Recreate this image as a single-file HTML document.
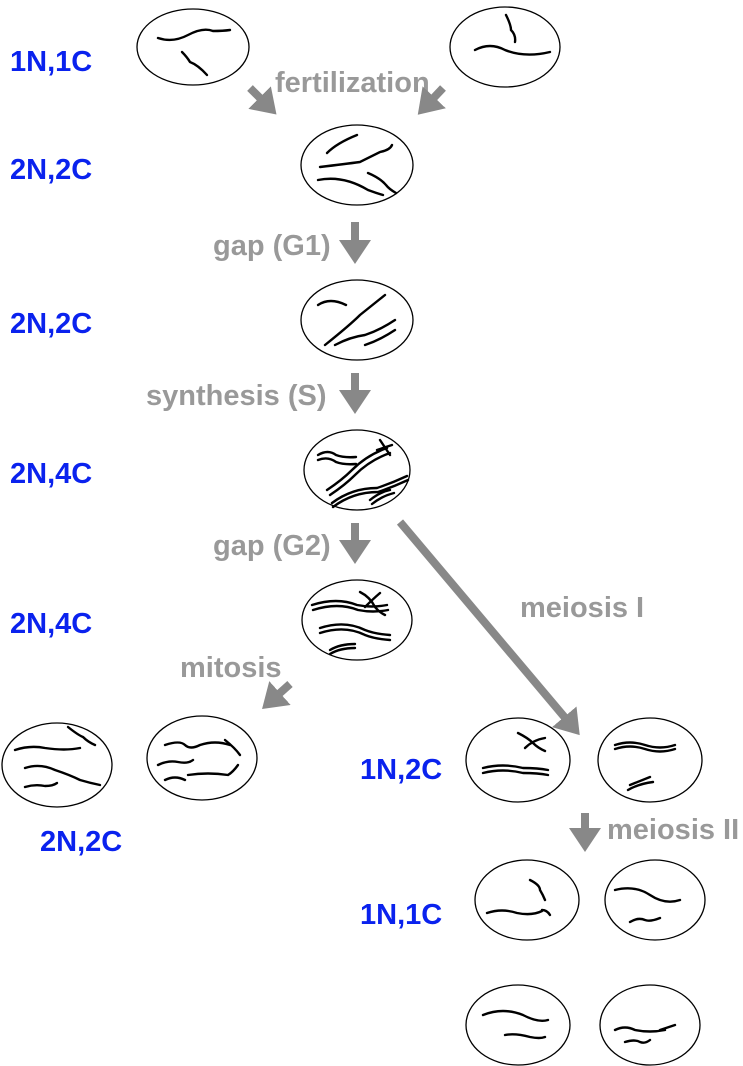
<!DOCTYPE html>
<html><head><style>
body{margin:0;background:#fff;}
svg{display:block;}
.b{fill:#0a22ee;font:bold 29px "Liberation Sans",sans-serif;}
.g{fill:#999;font:bold 29px "Liberation Sans",sans-serif;}
ellipse{fill:#fff;stroke:#000;stroke-width:1.3;}
.c path{fill:none;stroke:#000;stroke-width:2.4;stroke-linecap:round;}
</style></head><body>
<svg width="743" height="1066" viewBox="0 0 743 1066">
<defs>
<marker id="h" markerWidth="4" markerHeight="4" refX="1.5" refY="2" orient="auto" markerUnits="strokeWidth"><path d="M0,0 L3,2 L0,4 Z" fill="#888"/></marker>
</defs>
<text class="b" x="10" y="71">1N,1C</text>
<text class="b" x="10" y="179">2N,2C</text>
<text class="b" x="10" y="333">2N,2C</text>
<text class="b" x="10" y="483">2N,4C</text>
<text class="b" x="10" y="633">2N,4C</text>
<text class="b" x="40" y="851">2N,2C</text>
<text class="b" x="360" y="779">1N,2C</text>
<text class="b" x="360" y="924">1N,1C</text>
<text class="g" x="275" y="92">fertilization</text>
<text class="g" x="213" y="255">gap (G1)</text>
<text class="g" x="146" y="405">synthesis (S)</text>
<text class="g" x="213" y="555">gap (G2)</text>
<text class="g" x="180" y="677">mitosis</text>
<text class="g" x="520" y="617">meiosis I</text>
<text class="g" x="607" y="839">meiosis II</text>
<g stroke="#888" stroke-width="8" marker-end="url(#h)">
<line x1="250" y1="88" x2="268" y2="106"/>
<line x1="443" y1="88" x2="426" y2="106"/>
<line x1="355" y1="222" x2="355" y2="252"/>
<line x1="355" y1="373" x2="355" y2="402"/>
<line x1="355" y1="523" x2="355" y2="552"/>
<line x1="290" y1="684" x2="271" y2="701"/>
<line x1="400" y1="522" x2="572" y2="726"/>
<line x1="585" y1="813" x2="585" y2="840"/>
</g>
<ellipse cx="193" cy="47" rx="56" ry="38"/>
<ellipse cx="505" cy="47" rx="55" ry="40"/>
<ellipse cx="357" cy="165" rx="56" ry="40"/>
<ellipse cx="357" cy="320" rx="56" ry="40"/>
<ellipse cx="357" cy="470" rx="53" ry="40"/>
<ellipse cx="357" cy="620" rx="55" ry="40"/>
<ellipse cx="57" cy="765" rx="55" ry="42"/>
<ellipse cx="202" cy="758" rx="55" ry="42"/>
<ellipse cx="518" cy="760" rx="52" ry="42"/>
<ellipse cx="650" cy="760" rx="52" ry="42"/>
<ellipse cx="527" cy="900" rx="52" ry="40"/>
<ellipse cx="655" cy="900" rx="50" ry="40"/>
<ellipse cx="518" cy="1025" rx="52" ry="40"/>
<ellipse cx="650" cy="1025" rx="50" ry="40"/>
<g class="c">
<path d="M158,38 q15,5 30,-3 q15,-8 25,-4 q10,0 17,-1"/><path d="M182,52 q5,5 8,10 q8,3 17,13"/>
<path d="M475,50 q15,-8 30,0 q20,8 45,2"/><path d="M506,15 q5,10 5,15 q5,5 4,12"/>
<path d="M327,153 q10,-10 30,-18"/><path d="M320,167 q25,-3 40,-5 q10,-5 20,-10 q10,-2 12,-7"/><path d="M318,180 q25,-5 50,10 q8,3 15,5"/><path d="M368,173 q12,5 18,12 q3,4 10,8"/>
<path d="M318,305 q12,-8 28,0"/><path d="M325,345 q25,-20 35,-30 q15,-12 25,-20"/><path d="M335,345 q15,-8 30,-10 q15,-5 30,-15"/><path d="M365,345 q15,-5 30,-15"/>
<path d="M318,455 q10,-6 18,0 q8,3 20,2"/><path d="M318,460 q10,-4 18,2 q8,3 20,2"/><path d="M327,490 q15,-10 25,-20 q15,-15 35,-22"/><path d="M330,495 q15,-10 25,-20 q15,-15 35,-22"/><path d="M380,440 l10,15 M392,445 l-15,5"/>
<path d="M332,503 q20,-15 45,-15 q15,-5 30,-12"/><path d="M333,507 q20,-15 45,-15 q15,-5 30,-12"/><path d="M370,500 q10,-8 20,-10 M372,504 q10,-8 22,-11"/>
<path d="M312,605 q25,-8 45,0 q15,3 30,0"/><path d="M313,610 q25,-8 45,0 q15,3 30,0"/><path d="M360,592 q10,5 15,15 q4,5 10,8 M365,607 q8,-8 15,-14"/>
<path d="M320,628 q25,-8 45,2 q10,4 25,5"/><path d="M320,633 q25,-8 45,2 q10,4 25,5"/><path d="M330,650 q10,-6 25,-6 M330,654 q10,-6 25,-6"/>
<path d="M15,750 q15,-5 30,-2 q20,3 35,0"/><path d="M68,727 q10,8 15,10 q5,5 12,8"/><path d="M25,768 q15,-5 30,2 q15,5 25,10 q10,3 20,5"/><path d="M25,787 q10,-3 20,-1 q8,0 12,-3"/>
<path d="M165,745 q15,-5 20,0 q5,5 15,0 q15,-5 30,0"/><path d="M225,740 q10,8 15,15"/><path d="M158,765 q10,-5 20,-3 q10,2 15,-2"/><path d="M188,775 q20,-3 40,0 q5,-3 10,-10"/><path d="M165,780 q10,-5 20,0"/>
<path d="M518,733 q10,5 15,10 q5,5 12,8 M525,748 q8,-8 20,-10"/><path d="M483,768 q20,-5 40,0 q15,0 25,2"/><path d="M483,773 q20,-5 40,0 q15,0 25,2"/>
<path d="M615,745 q15,-5 30,0 q15,5 30,0"/><path d="M615,749 q15,-5 30,0 q15,5 30,0"/><path d="M628,790 q10,-6 25,-8 M630,785 q10,-4 20,-8"/>
<path d="M487,913 q15,-5 30,0 q15,3 25,-2"/><path d="M530,880 q10,5 10,10 q3,5 5,10"/><path d="M542,910 q5,0 8,5"/>
<path d="M615,890 q20,-5 35,5 q15,10 30,5"/><path d="M630,922 q8,-5 15,-2 q5,2 15,-2"/>
<path d="M483,1015 q20,-8 40,0 q15,8 25,5"/><path d="M505,1035 q10,-2 25,2 q10,2 15,0"/>
<path d="M615,1030 q10,-5 20,0 q15,3 30,0"/><path d="M625,1042 q10,-3 15,0 q5,2 10,-2"/><path d="M660,1030 l15,-5"/>
</g>
</svg>
</body></html>
